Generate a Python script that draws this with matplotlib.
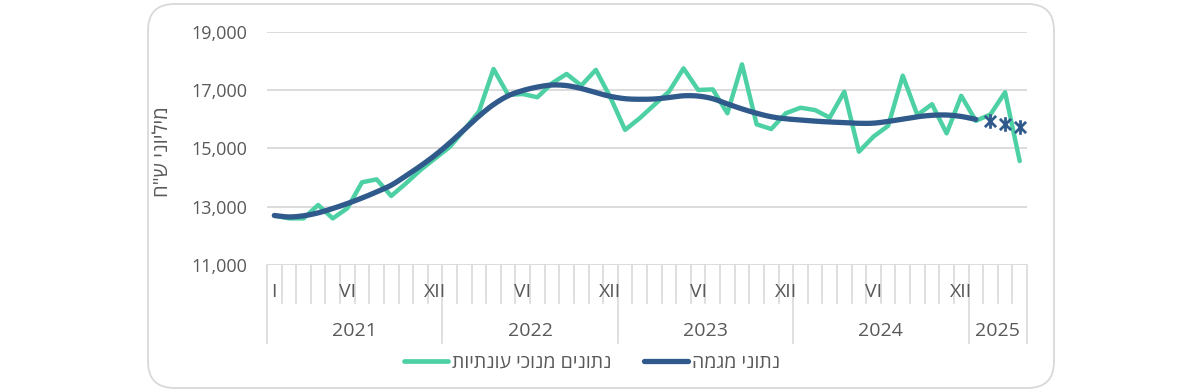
import numpy as np
import matplotlib.pyplot as plt
from matplotlib.patches import FancyBboxPatch
from matplotlib.path import Path
from matplotlib.lines import Line2D

plt.rcParams['font.family'] = ['Open Sans', 'DejaVu Sans']

# monthly data, Jan 2021 - Apr 2025 (millions NIS)
years = ['2021', '2022', '2023', '2024', '2025']
months_per_year = [12, 12, 12, 12, 4]

seasonal_adj = [12700, 12600, 12600, 13060, 12600, 12950, 13840, 13940, 13370, 13800, 14260, 14660,
                15050, 15640, 16265, 17730, 16840, 16870, 16760, 17240, 17560, 17160, 17700, 16750,
                15640, 16040, 16500, 16950, 17750, 17010, 17030, 16210, 17890, 15830, 15670, 16210,
                16400, 16320, 16060, 16950, 14890, 15410, 15780, 17500, 16150, 16520, 15520, 16810,
                15950, 16170, 16930, 14570]

trend = [12700, 12650, 12690, 12790, 12940, 13110, 13300, 13510, 13740, 14060, 14400, 14770,
         15190, 15650, 16110, 16510, 16810, 16990, 17110, 17180, 17160, 17060, 16920, 16790,
         16710, 16690, 16700, 16750, 16810, 16800, 16710, 16530, 16360, 16210, 16090, 16020,
         15980, 15940, 15910, 15890, 15865, 15870, 15930, 16010, 16090, 16140, 16150, 16100,
         16000]

trend_prelim = [15945, 15830, 15750]  # Feb-Apr 2025 estimates (asterisks)

month_labels = {0: 'I'}
for y in range(4):
    month_labels[y * 12 + 5] = 'VI'
    month_labels[y * 12 + 11] = 'XII'

label_teal = 'נתונים מנוכי עונתיות'
label_navy = 'נתוני מגמה'
ylabel = 'מיליוני ש"ח'

TEAL = '#4dd1a4'
NAVY = '#2f5a8b'
GRID = '#d9d9d9'
TXT = '#595959'


def rtl(s):
    return s[::-1]


def smooth(x, y, n=12):
    # cubic hermite (catmull-rom) through the points, like excel's smoothed line
    x = np.asarray(x, float)
    y = np.asarray(y, float)
    m = np.gradient(y, x)
    xs, ys = [], []
    for i in range(len(x) - 1):
        h = x[i + 1] - x[i]
        t = np.linspace(0, 1, n, endpoint=False)
        h00 = 2 * t**3 - 3 * t**2 + 1
        h10 = t**3 - 2 * t**2 + t
        h01 = -2 * t**3 + 3 * t**2
        h11 = t**3 - t**2
        xs.append(x[i] + t * h)
        ys.append(h00 * y[i] + h10 * h * m[i] + h01 * y[i + 1] + h11 * h * m[i + 1])
    xs.append([x[-1]])
    ys.append([y[-1]])
    return np.concatenate(xs), np.concatenate(ys)


fig = plt.figure(figsize=(12, 3.92), dpi=100)

# rounded frame around the chart
frame = FancyBboxPatch((148 / 1200, 4 / 392), 906 / 1200, 384 / 392,
                       boxstyle='round,pad=0,rounding_size=0.022',
                       transform=fig.transFigure, fc='none', ec=GRID, lw=1.3,
                       mutation_aspect=1200 / 392, zorder=-5)
fig.patches.append(frame)

ax = fig.add_axes([267 / 1200, 1 - 265 / 392, 760 / 1200, 233 / 392])
ax.patch.set_alpha(0)

n = len(seasonal_adj)
x = np.arange(n) + 0.5
ax.plot(x, seasonal_adj, color=TEAL, lw=3.2, solid_joinstyle='round', solid_capstyle='round', zorder=3)

tx, ty = smooth(x[:len(trend)], trend)
ax.plot(tx, ty, color=NAVY, lw=3.8, solid_capstyle='round', zorder=4)

star = Path([(-1, -1), (1, 1), (-1, 1), (1, -1), (0, -1.3), (0, 1.3)],
            [Path.MOVETO, Path.LINETO, Path.MOVETO, Path.LINETO, Path.MOVETO, Path.LINETO])
px = x[len(trend):len(trend) + len(trend_prelim)]
ax.plot(px, trend_prelim, ls='none', marker=star, ms=10.5, mew=2, mec=NAVY, color=NAVY, zorder=5)

ax.set_xlim(0, n)
ax.set_ylim(11000, 19000)
ax.set_yticks(np.arange(11000, 19001, 2000))
ax.yaxis.set_major_formatter(plt.FuncFormatter(lambda v, p: f'{v:,.0f}'))
ax.grid(axis='y', color=GRID, lw=1.3)
ax.set_axisbelow(True)
for s in ax.spines.values():
    s.set_visible(False)
ax.tick_params(axis='y', length=0, pad=14, labelsize=13, labelcolor=TXT)
ax.set_xticks([])

# category axis: month ticks, year groups
trans = ax.get_xaxis_transform()
year_edges = np.concatenate([[0], np.cumsum(months_per_year)])
for b in range(n + 1):
    bottom = -0.335 if b in year_edges else -0.163
    ax.add_line(Line2D([b, b], [0, bottom], transform=trans, color=GRID, lw=1.2, clip_on=False))
for i, lab in month_labels.items():
    ax.text(i + 0.5, -0.118, lab, transform=trans, ha='center', va='center',
            fontsize=14, color=TXT)
for k, yr in enumerate(years):
    ax.text((year_edges[k] + year_edges[k + 1]) / 2, -0.285, yr, transform=trans,
            ha='center', va='center', fontsize=14, color=TXT)

fig.text(163 / 1200, 1 - 152 / 392, rtl(ylabel), rotation=90, ha='center', va='center',
         fontsize=14.5, color=TXT)

handles = [Line2D([], [], color=TEAL, lw=3.4, solid_capstyle='round'),
           Line2D([], [], color=NAVY, lw=3.8, solid_capstyle='round')]
fig.legend(handles, [rtl(label_teal), rtl(label_navy)], loc='center',
           bbox_to_anchor=(592 / 1200, 1 - 363 / 392), ncol=2, frameon=False,
           fontsize=14, labelcolor=TXT, handlelength=2.26, handletextpad=0.2,
           columnspacing=1.7)

plt.savefig('out.png', dpi=100)
